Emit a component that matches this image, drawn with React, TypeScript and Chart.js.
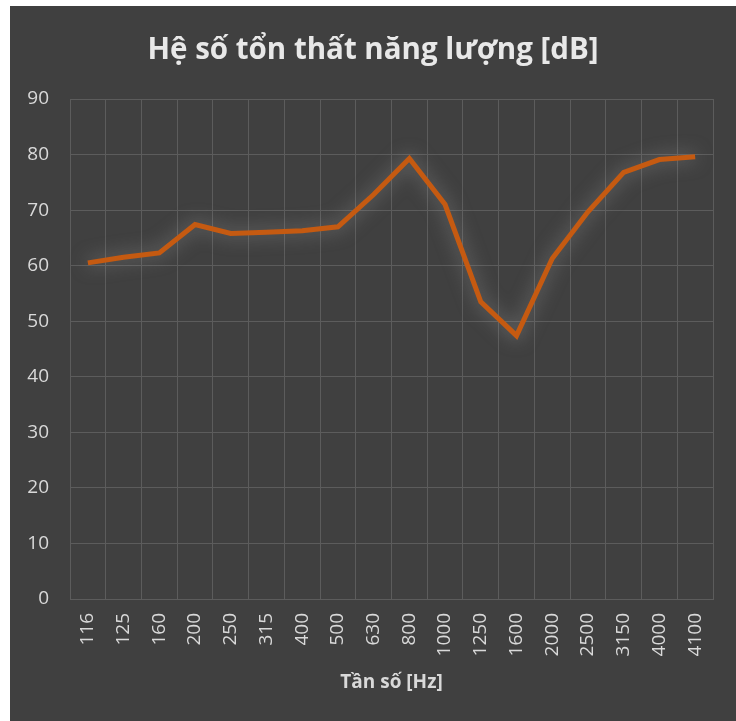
import React, { useEffect, useRef } from "react";
import { Chart, registerables } from "chart.js";

Chart.register(...registerables);

const categories = ["116", "125", "160", "200", "250", "315", "400", "500", "630", "800", "1000", "1250", "1600", "2000", "2500", "3150", "4000", "4100"];
const values = [60.5, 61.5, 62.3, 67.4, 65.8, 66.0, 66.3, 67.0, 72.8, 79.3, 71.0, 53.5, 47.4, 61.3, 69.7, 76.8, 79.1, 79.6];
const yTicks = [0, 10, 20, 30, 40, 50, 60, 70, 80, 90];

const titleText = "Hệ số tổn thất năng lượng [dB]";
const xTitleText = "Tần số [Hz]";

const glowPlugin = {
  id: "glow",
  beforeDatasetDraw(chart: any) {
    const ctx = chart.ctx;
    ctx.save();
    ctx.shadowColor = "rgba(190,190,190,0.5)";
    ctx.shadowBlur = 18;
  },
  afterDatasetDraw(chart: any) {
    chart.ctx.restore();
  },
};

export default function App() {
  const ref = useRef<HTMLCanvasElement | null>(null);
  useEffect(() => {
    document.body.style.margin = "0";
    const canvas = ref.current!;
    const chart = new Chart(canvas, {
      type: "line",
      data: {
        labels: categories,
        datasets: [
          {
            data: values,
            borderColor: "#C55A11",
            borderWidth: 5,
            pointRadius: 0,
            tension: 0,
            fill: false,
            yAxisID: "y",
          },
        ],
      },
      plugins: [glowPlugin],
      options: {
        animation: false,
        responsive: false,
        maintainAspectRatio: false,
        layout: { padding: 0 },
        plugins: {
          legend: { display: false },
          tooltip: { enabled: false },
          title: {
            display: true,
            text: titleText,
            color: "#e8e8e8",
            font: { family: "Open Sans", size: 29.5, weight: "bold", lineHeight: 1.2 },
            padding: { top: 27, bottom: 30.6 },
          },
        },
        scales: {
          x: {
            type: "category",
            offset: true,
            grid: { color: "#5c5c5c", lineWidth: 1, drawTicks: false, offset: true },
            border: { color: "#5c5c5c" },
            ticks: {
              color: "#d9d9d9",
              font: { family: "Open Sans", size: 19 },
              minRotation: 90,
              maxRotation: 90,
              padding: 14,
              autoSkip: false,
            },
            title: {
              display: true,
              text: xTitleText,
              color: "#d9d9d9",
              font: { family: "Open Sans", size: 19, weight: "bold", lineHeight: 1.2 },
              padding: { top: 27, bottom: 27 },
            },
            afterFit(scale: any) {
              scale.height = 122;
            },
          },
          y: {
            position: "left",
            min: 0,
            max: 90,
            grid: { color: "#5c5c5c", lineWidth: 1, drawTicks: false },
            border: { display: false },
            afterBuildTicks(scale: any) {
              scale.ticks = yTicks.map((v) => ({ value: v }));
            },
            ticks: {
              color: "#d9d9d9",
              font: { family: "Open Sans", size: 19 },
              padding: 21,
            },
            afterFit(scale: any) {
              scale.width = 60;
            },
          },
          yRight: {
            position: "right",
            min: 0,
            max: 90,
            grid: { display: false, drawTicks: false },
            border: { display: false },
            ticks: { display: false },
            afterFit(scale: any) {
              scale.width = 23;
            },
          },
        },
      },
    });
    return () => chart.destroy();
  }, []);
  return (
    <div style={{ position: "fixed", left: 0, top: 0, width: 736, height: 721, background: "#ffffff" }}>
      <div style={{ position: "absolute", left: 10, top: 6, width: 726, height: 715, background: "#404040" }}>
        <canvas ref={ref} width={726} height={715} style={{ display: "block" }} />
      </div>
    </div>
  );
}
